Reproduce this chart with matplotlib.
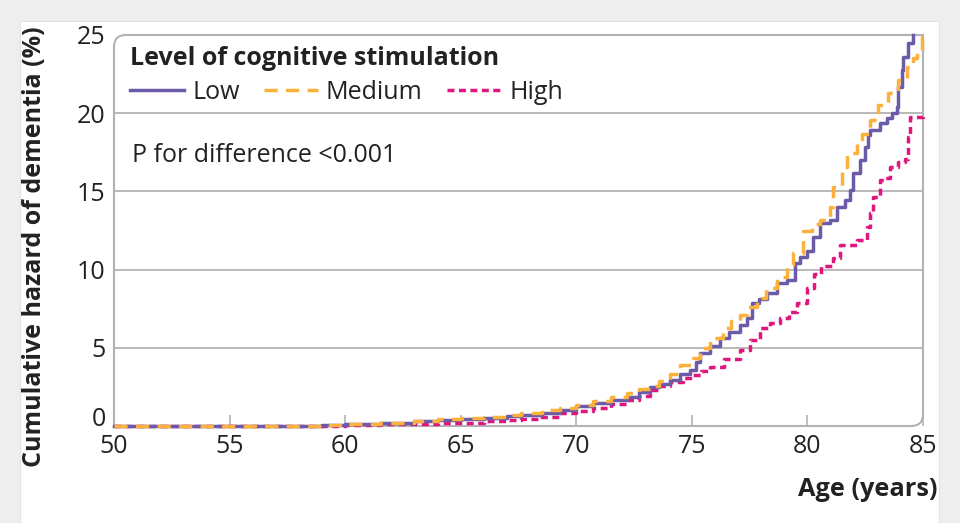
import matplotlib
matplotlib.use("Agg")
import matplotlib.pyplot as plt
from matplotlib.patches import Rectangle, PathPatch
from matplotlib.path import Path

plt.rcParams['font.family'] = ['Open Sans', 'DejaVu Sans']

# cumulative hazard (%), as step points (steps-post)
low_age = [50, 57.5, 59, 60, 61.5, 63, 64, 65, 66, 67, 67.6, 68.5, 69.3, 70,
           70.74, 71.5, 72.18, 72.7, 73.19, 73.6, 74.05, 74.49, 74.92, 75.2,
           75.35, 75.8, 76.21, 76.6, 77.08, 77.4, 77.59, 77.9, 78.24, 78.67,
           79.1, 79.46, 79.7, 79.97, 80.25, 80.54, 80.98, 81.26, 81.62, 81.84,
           81.99, 82.27, 82.49, 82.63, 82.71, 83.14, 83.43, 83.65, 83.86,
           83.93, 84.08, 84.15, 84.36, 84.58]
low_val = [0, 0.03, 0.08, 0.15, 0.22, 0.3, 0.37, 0.43, 0.52, 0.62, 0.7, 0.85,
           1.05, 1.25, 1.45, 1.65, 1.88, 2.2, 2.5, 2.7, 2.94, 3.3, 3.6, 4.1,
           4.65, 5.1, 5.6, 6.0, 6.46, 6.9, 7.84, 8.1, 8.48, 9.12, 9.33, 10.4,
           10.8, 11.2, 12.1, 12.96, 13.17, 14.0, 14.45, 15.09, 16.16, 17.0,
           17.86, 18.6, 18.93, 19.35, 19.67, 19.99, 20.42, 21.7, 22.76, 23.6,
           24.47, 25.0]

med_age = [50, 58, 59, 60, 61.5, 63, 64, 65, 66, 67, 67.6, 68.5, 69.3, 70,
           70.74, 71.5, 72.18, 72.7, 73.19, 73.6, 74.05, 74.5, 75.06, 75.35,
           75.8, 76.36, 76.7, 77.08, 77.4, 77.8, 78.2, 78.67, 79.1, 79.39,
           79.82, 80.2, 80.54, 80.98, 81.12, 81.48, 81.7, 82.13, 82.35, 82.71,
           83.07, 83.5, 83.93, 84.29, 84.58, 84.75, 84.94, 85]
med_val = [0, 0.02, 0.07, 0.13, 0.22, 0.33, 0.42, 0.49, 0.6, 0.72, 0.81, 1.0,
           1.15, 1.35, 1.62, 1.85, 2.13, 2.35, 2.58, 2.9, 3.3, 3.9, 4.33, 5.0,
           5.6, 6.25, 6.7, 7.1, 7.6, 8.16, 8.8, 9.55, 10.3, 11.04, 12.5, 12.9,
           13.17, 14.0, 15.3, 16.58, 17.44, 18.07, 18.7, 19.57, 20.5, 21.27,
           22.1, 22.97, 23.5, 24.04, 24.9, 24.9]

high_age = [50, 59, 60, 61.5, 63, 64, 65, 66, 67, 67.6, 68.5, 69.3, 70, 70.74,
            71.5, 72.18, 72.7, 73.19, 73.6, 74.05, 74.6, 75.06, 75.4, 75.79,
            76.4, 77.08, 77.5, 77.95, 78.4, 78.82, 79.2, 79.53, 79.97, 80.3,
            80.6, 81.12, 81.41, 82.13, 82.56, 82.7, 82.85, 83.14, 83.36, 83.57,
            83.93, 84.2, 84.36, 84.43, 85]
high_val = [0, 0.02, 0.05, 0.1, 0.15, 0.19, 0.22, 0.3, 0.38, 0.43, 0.6, 0.8,
            0.95, 1.13, 1.4, 1.66, 1.95, 2.3, 2.55, 2.83, 3.05, 3.26, 3.5,
            3.79, 4.3, 4.86, 5.5, 6.25, 6.6, 6.89, 7.3, 7.84, 8.8, 9.7, 10.2,
            10.72, 11.57, 11.9, 12.74, 13.6, 14.66, 15.73, 15.86, 16.58, 16.9,
            17.1, 18.5, 19.78, 19.8]

x_ticks = [50, 55, 60, 65, 70, 75, 80, 85]
y_ticks = [0, 5, 10, 15, 20, 25]

text_col = '#222222'
grey = '#b3b3b3'
fs = 18

fig = plt.figure(figsize=(9.6, 5.23), dpi=100)
fig.patch.set_facecolor('#eeeeee')
fig.patches.append(Rectangle((20 / 960, 0), 919 / 960, 1 - 21 / 523,
                             transform=fig.transFigure, facecolor='white',
                             edgecolor='#e2e2e2', linewidth=0.8, zorder=-5))

ax = fig.add_axes([114 / 960, 1 - 426 / 523, 809 / 960, 391 / 523])
ax.set_facecolor('none')
ax.set_xlim(50, 85)
ax.set_ylim(0, 25)

for y in y_ticks[1:-1]:
    ax.axhline(y, color=grey, linewidth=1.3, zorder=1)

ax.plot(low_age, low_val, drawstyle='steps-post', color='#6b5ba8',
        linewidth=2.5, label='Low', clip_on=False, zorder=4)
ax.plot(med_age, med_val, drawstyle='steps-post', color='#fbb13c',
        linewidth=2.5, dashes=(3.8, 2.4), label='Medium', clip_on=False, zorder=5)
ax.plot(high_age, high_val, drawstyle='steps-post', color='#e0157e',
        linewidth=2.5, dashes=(2.0, 1.3), label='High', clip_on=False, zorder=3)

# frame with rounded top-left and bottom-right corners
for s in ax.spines.values():
    s.set_visible(False)
rx, ry = 12 / 809, 12 / 391
verts = [(0, 0), (0, 1 - ry), (0, 1), (rx, 1), (1, 1), (1, ry), (1, 0),
         (1 - rx, 0), (0, 0)]
codes = [Path.MOVETO, Path.LINETO, Path.CURVE3, Path.CURVE3, Path.LINETO,
         Path.LINETO, Path.CURVE3, Path.CURVE3, Path.LINETO]
ax.add_patch(PathPatch(Path(verts, codes), transform=ax.transAxes,
                       facecolor='none', edgecolor=grey, linewidth=1.5,
                       zorder=2, clip_on=False))

ax.set_xticks(x_ticks)
ax.set_yticks(y_ticks)
ax.tick_params(axis='x', direction='in', length=8, width=1.2, color=grey,
               pad=6, labelsize=fs, labelcolor=text_col)
ax.tick_params(axis='y', length=0, pad=6, labelsize=fs, labelcolor=text_col)
for lab in ax.get_yticklabels():
    if lab.get_text() == '0':
        lab.set_verticalalignment('baseline')

leg = ax.legend(loc='upper left', bbox_to_anchor=(16 / 809, 1 - 11 / 391),
                ncol=3, frameon=False, fontsize=fs, handlelength=2.17,
                handletextpad=0.32, columnspacing=0.96, borderpad=0,
                borderaxespad=0, labelspacing=0.36,
                title='Level of cognitive stimulation', alignment='left')
leg.get_title().set_fontweight('bold')
leg.get_title().set_fontsize(fs)
leg.get_title().set_color(text_col)
for t in leg.get_texts():
    t.set_color(text_col)

ax.text(18 / 809, 1 - 120 / 391, 'P for difference <0.001', transform=ax.transAxes,
        fontsize=fs, color=text_col, va='center', ha='left')

fig.text(35 / 960, 1 - 247 / 523, 'Cumulative hazard of dementia (%)',
         rotation=90, fontsize=18, fontweight='bold', color=text_col,
         ha='center', va='center')
fig.text(937 / 960, 1 - 490 / 523, 'Age (years)', fontsize=18.3,
         fontweight='bold', color=text_col, ha='right', va='center')

fig.savefig('out.png', dpi=100, facecolor=fig.get_facecolor())
